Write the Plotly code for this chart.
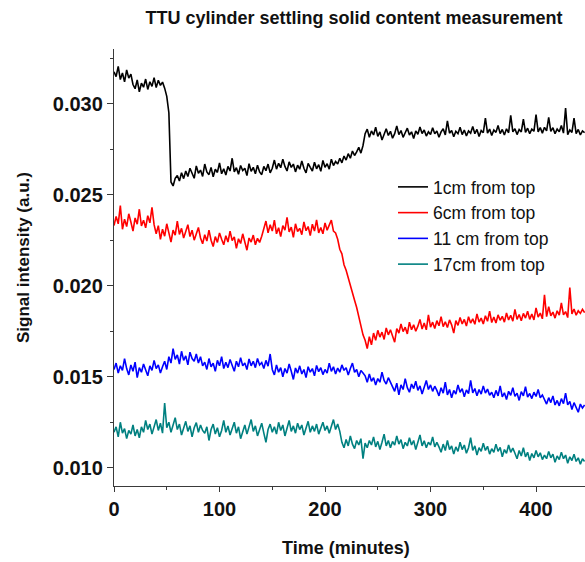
import plotly.graph_objects as go

# Sampling times (minutes), one reading every 2 minutes
TIME = list(range(0, 448, 2))

# Signal intensity (a.u.) at each depth below the top of the cylinder
SIG_1CM = [
    0.03175, 0.03148, 0.03205, 0.03132, 0.03168, 0.03120, 0.03185, 0.03140, 0.03162, 0.03105,
    0.03082, 0.03130, 0.03065, 0.03112, 0.03090, 0.03135, 0.03078, 0.03120, 0.03095, 0.03142,
    0.03088, 0.03128, 0.03100, 0.03118, 0.03085, 0.03040, 0.02950, 0.02570, 0.02548, 0.02590,
    0.02605, 0.02575, 0.02620, 0.02588, 0.02630, 0.02600, 0.02645, 0.02612, 0.02590, 0.02658,
    0.02618, 0.02635, 0.02600, 0.02668, 0.02625, 0.02610, 0.02650, 0.02598, 0.02640, 0.02622,
    0.02675, 0.02615, 0.02642, 0.02608, 0.02655, 0.02630, 0.02700, 0.02625, 0.02648, 0.02612,
    0.02660, 0.02632, 0.02645, 0.02605, 0.02670, 0.02628, 0.02650, 0.02615, 0.02662, 0.02625,
    0.02610, 0.02655, 0.02632, 0.02668, 0.02620, 0.02645, 0.02690, 0.02640, 0.02672, 0.02648,
    0.02695, 0.02655, 0.02630, 0.02680, 0.02650, 0.02668, 0.02625, 0.02662, 0.02640, 0.02685,
    0.02645, 0.02620, 0.02672, 0.02650, 0.02630, 0.02678, 0.02642, 0.02665, 0.02628, 0.02688,
    0.02650, 0.02670, 0.02640, 0.02695, 0.02660, 0.02682, 0.02668, 0.02700, 0.02675, 0.02712,
    0.02690, 0.02725, 0.02700, 0.02740, 0.02715, 0.02735, 0.02760, 0.02728, 0.02770, 0.02835,
    0.02860, 0.02815, 0.02850, 0.02828, 0.02870, 0.02820, 0.02845, 0.02800, 0.02838, 0.02862,
    0.02825, 0.02848, 0.02810, 0.02835, 0.02878, 0.02830, 0.02852, 0.02815, 0.02840, 0.02865,
    0.02828, 0.02845, 0.02808, 0.02850, 0.02832, 0.02872, 0.02836, 0.02855, 0.02822, 0.02845,
    0.02830, 0.02868, 0.02835, 0.02850, 0.02815, 0.02845, 0.02862, 0.02828, 0.02905, 0.02838,
    0.02852, 0.02818, 0.02848, 0.02835, 0.02870, 0.02830, 0.02855, 0.02822, 0.02850, 0.02838,
    0.02875, 0.02835, 0.02858, 0.02820, 0.02852, 0.02840, 0.02920, 0.02838, 0.02860, 0.02825,
    0.02855, 0.02842, 0.02880, 0.02835, 0.02858, 0.02828, 0.02862, 0.02840, 0.02935, 0.02845,
    0.02862, 0.02830, 0.02858, 0.02845, 0.02915, 0.02842, 0.02865, 0.02835, 0.02860, 0.02848,
    0.02940, 0.02845, 0.02868, 0.02838, 0.02870, 0.02850, 0.02925, 0.02848, 0.02868, 0.02835,
    0.02860, 0.02845, 0.02880, 0.02838, 0.02975, 0.02830, 0.02855, 0.02842, 0.02920, 0.02835,
    0.02858, 0.02828, 0.02850, 0.02840,
]

SIG_6CM = [
    0.02330, 0.02380, 0.02340, 0.02440, 0.02310, 0.02365, 0.02325, 0.02395, 0.02350, 0.02300,
    0.02372, 0.02338, 0.02420, 0.02328, 0.02360, 0.02318, 0.02385, 0.02345, 0.02430, 0.02335,
    0.02285, 0.02330, 0.02255, 0.02310, 0.02272, 0.02340, 0.02290, 0.02240, 0.02305, 0.02278,
    0.02355, 0.02282, 0.02315, 0.02262, 0.02298, 0.02335, 0.02270, 0.02305, 0.02250, 0.02292,
    0.02320, 0.02262, 0.02230, 0.02280, 0.02245, 0.02305, 0.02250, 0.02215, 0.02270, 0.02238,
    0.02290, 0.02255, 0.02225, 0.02275, 0.02240, 0.02300, 0.02248, 0.02268, 0.02205, 0.02258,
    0.02232, 0.02285, 0.02245, 0.02195, 0.02262, 0.02240, 0.02278, 0.02225, 0.02260, 0.02238,
    0.02272, 0.02320, 0.02355, 0.02290, 0.02335, 0.02300, 0.02360, 0.02285, 0.02318, 0.02270,
    0.02330, 0.02305, 0.02375, 0.02295, 0.02322, 0.02265, 0.02340, 0.02298, 0.02315, 0.02280,
    0.02350, 0.02302, 0.02325, 0.02275, 0.02338, 0.02300, 0.02362, 0.02290, 0.02320, 0.02285,
    0.02345, 0.02305, 0.02330, 0.02360, 0.02300, 0.02290, 0.02255, 0.02200, 0.02175, 0.02115,
    0.02085, 0.02040, 0.02005, 0.01960, 0.01920, 0.01880, 0.01830, 0.01790, 0.01730, 0.01700,
    0.01655, 0.01720, 0.01675, 0.01740, 0.01700, 0.01755, 0.01718, 0.01745, 0.01705, 0.01768,
    0.01730, 0.01758, 0.01722, 0.01690, 0.01765, 0.01740, 0.01790, 0.01748, 0.01772, 0.01735,
    0.01800, 0.01758, 0.01785, 0.01750, 0.01778, 0.01815, 0.01762, 0.01795, 0.01758, 0.01840,
    0.01772, 0.01800, 0.01765, 0.01808, 0.01780, 0.01830, 0.01775, 0.01802, 0.01770, 0.01812,
    0.01785, 0.01740, 0.01808, 0.01782, 0.01825, 0.01790, 0.01815, 0.01778, 0.01830, 0.01795,
    0.01818, 0.01788, 0.01845, 0.01800, 0.01822, 0.01790, 0.01835, 0.01805, 0.01860, 0.01798,
    0.01828, 0.01795, 0.01840, 0.01810, 0.01832, 0.01800, 0.01850, 0.01812, 0.01838, 0.01805,
    0.01870, 0.01815, 0.01842, 0.01808, 0.01848, 0.01822, 0.01860, 0.01815, 0.01845, 0.01812,
    0.01878, 0.01828, 0.01850, 0.01818, 0.01950, 0.01830, 0.01885, 0.01835, 0.01855, 0.01822,
    0.01862, 0.01838, 0.01905, 0.01840, 0.01858, 0.01825, 0.01990, 0.01845, 0.01872, 0.01838,
    0.01862, 0.01848, 0.01870, 0.01852,
]

SIG_11CM = [
    0.01540, 0.01575, 0.01520, 0.01560, 0.01535, 0.01600, 0.01545, 0.01510, 0.01565, 0.01530,
    0.01580, 0.01495, 0.01550, 0.01525, 0.01570, 0.01540, 0.01505, 0.01560, 0.01535, 0.01590,
    0.01545, 0.01565, 0.01520, 0.01555, 0.01585, 0.01540, 0.01610, 0.01575, 0.01655, 0.01595,
    0.01620, 0.01570, 0.01640, 0.01590, 0.01615, 0.01565, 0.01635, 0.01600, 0.01585, 0.01625,
    0.01575, 0.01610, 0.01560, 0.01580, 0.01540, 0.01600, 0.01555, 0.01575, 0.01530, 0.01590,
    0.01560, 0.01610, 0.01545, 0.01580, 0.01550, 0.01595, 0.01565, 0.01530, 0.01585, 0.01555,
    0.01605, 0.01560, 0.01575, 0.01540, 0.01598, 0.01560, 0.01585, 0.01550, 0.01600, 0.01565,
    0.01578, 0.01545, 0.01590, 0.01558, 0.01625, 0.01540, 0.01510, 0.01565, 0.01525, 0.01550,
    0.01500, 0.01545, 0.01520, 0.01570, 0.01530, 0.01485, 0.01548, 0.01520, 0.01560, 0.01515,
    0.01540, 0.01495, 0.01555, 0.01525, 0.01545, 0.01505, 0.01562, 0.01528, 0.01550, 0.01512,
    0.01540, 0.01520, 0.01575, 0.01530, 0.01555, 0.01515, 0.01548, 0.01525, 0.01565, 0.01535,
    0.01550, 0.01510, 0.01545, 0.01575, 0.01525, 0.01540, 0.01500, 0.01535, 0.01520, 0.01505,
    0.01470, 0.01515, 0.01475, 0.01495, 0.01455, 0.01490, 0.01470, 0.01525, 0.01480, 0.01460,
    0.01495, 0.01470, 0.01450, 0.01420, 0.01465, 0.01400, 0.01455, 0.01430, 0.01490, 0.01440,
    0.01415, 0.01460, 0.01435, 0.01475, 0.01425, 0.01450, 0.01405, 0.01445, 0.01480, 0.01430,
    0.01455, 0.01420, 0.01448, 0.01425, 0.01395, 0.01440, 0.01410, 0.01470, 0.01400, 0.01430,
    0.01385, 0.01425, 0.01405, 0.01455, 0.01415, 0.01435, 0.01390, 0.01428, 0.01408, 0.01480,
    0.01412, 0.01435, 0.01395, 0.01430, 0.01405, 0.01450, 0.01410, 0.01432, 0.01398, 0.01415,
    0.01385, 0.01425, 0.01395, 0.01450, 0.01390, 0.01412, 0.01375, 0.01420, 0.01398, 0.01440,
    0.01392, 0.01410, 0.01370, 0.01418, 0.01395, 0.01445, 0.01388, 0.01408, 0.01380, 0.01415,
    0.01392, 0.01430, 0.01385, 0.01400, 0.01375, 0.01350, 0.01385, 0.01358, 0.01395, 0.01345,
    0.01370, 0.01340, 0.01380, 0.01352, 0.01410, 0.01345, 0.01365, 0.01320, 0.01358, 0.01335,
    0.01305, 0.01350, 0.01328, 0.01345,
]

SIG_17CM = [
    0.01195, 0.01225, 0.01170, 0.01250, 0.01190, 0.01215, 0.01160, 0.01205, 0.01185, 0.01235,
    0.01175, 0.01210, 0.01165, 0.01225, 0.01195, 0.01260, 0.01210, 0.01240, 0.01185, 0.01230,
    0.01265, 0.01205, 0.01245, 0.01190, 0.01355, 0.01220, 0.01250, 0.01195, 0.01235, 0.01275,
    0.01210, 0.01240, 0.01180, 0.01225, 0.01255, 0.01200, 0.01230, 0.01170, 0.01220, 0.01248,
    0.01195, 0.01235, 0.01205, 0.01190, 0.01225, 0.01150, 0.01210, 0.01240, 0.01185, 0.01220,
    0.01170, 0.01205, 0.01260, 0.01195, 0.01230, 0.01180, 0.01215, 0.01250, 0.01190, 0.01225,
    0.01160, 0.01205, 0.01235, 0.01185, 0.01220, 0.01265, 0.01200, 0.01230, 0.01175, 0.01215,
    0.01245, 0.01190, 0.01140, 0.01210, 0.01240, 0.01195, 0.01225, 0.01185, 0.01250, 0.01205,
    0.01235, 0.01175, 0.01220, 0.01260, 0.01200, 0.01230, 0.01190, 0.01245, 0.01210, 0.01235,
    0.01180, 0.01225, 0.01255, 0.01195, 0.01230, 0.01200, 0.01240, 0.01185, 0.01220, 0.01250,
    0.01205, 0.01230, 0.01190, 0.01235, 0.01265, 0.01210, 0.01240, 0.01200, 0.01140, 0.01110,
    0.01155, 0.01120, 0.01175, 0.01130, 0.01105, 0.01150, 0.01125, 0.01160, 0.01050, 0.01135,
    0.01110, 0.01150, 0.01125, 0.01170, 0.01115, 0.01145, 0.01100, 0.01140, 0.01185, 0.01120,
    0.01150, 0.01110, 0.01145, 0.01125, 0.01175, 0.01130, 0.01155, 0.01105, 0.01140, 0.01120,
    0.01165, 0.01125, 0.01150, 0.01100, 0.01145, 0.01180, 0.01120, 0.01148, 0.01110, 0.01140,
    0.01125, 0.01170, 0.01115, 0.01140, 0.01115, 0.01085, 0.01130, 0.01095, 0.01150, 0.01100,
    0.01120, 0.01075, 0.01115, 0.01090, 0.01140, 0.01100, 0.01125, 0.01080, 0.01110, 0.01165,
    0.01095, 0.01120, 0.01070, 0.01110, 0.01090, 0.01135, 0.01095, 0.01118, 0.01075, 0.01105,
    0.01085, 0.01130, 0.01090, 0.01112, 0.01060, 0.01100, 0.01080, 0.01125, 0.01085, 0.01108,
    0.01080, 0.01050, 0.01095, 0.01065, 0.01110, 0.01060, 0.01085, 0.01040, 0.01078, 0.01055,
    0.01095, 0.01060, 0.01082, 0.01045, 0.01070, 0.01050, 0.01090, 0.01055, 0.01075, 0.01030,
    0.01065, 0.01045, 0.01085, 0.01050, 0.01070, 0.01025, 0.01060, 0.01040, 0.01075, 0.01035,
    0.01055, 0.01020, 0.01050, 0.01035,
]

SERIES_NAMES = ["1cm from top", "6cm from top", "11 cm from top", "17cm from top"]
SERIES_COLORS = ["#000000", "#ff0000", "#0000ff", "#008080"]

for s in (SIG_1CM, SIG_6CM, SIG_11CM, SIG_17CM):
    assert len(s) == len(TIME), len(s)

FONT = "Liberation Sans, Arial, sans-serif"
AXIS_COLOR = "#3a3a3a"
TEXT_COLOR = "#111111"

fig = go.Figure()
for name, color, vals in zip(SERIES_NAMES, SERIES_COLORS,
                             [SIG_1CM, SIG_6CM, SIG_11CM, SIG_17CM]):
    fig.add_trace(go.Scatter(
        x=TIME, y=vals, mode="lines", name=name,
        line=dict(color=color, width=1.6),
    ))

X_RANGE = [0, 446.4]
Y_RANGE = [0.009, 0.033]

fig.update_layout(
    width=585, height=562,
    margin=dict(l=114, r=0, t=49, b=76),
    paper_bgcolor="white", plot_bgcolor="white",
    font=dict(family=FONT, color=TEXT_COLOR),
    title=dict(
        text="TTU cylinder settling solid content measurement",
        font=dict(family=FONT, size=18, weight="bold", color=TEXT_COLOR),
        xref="container", x=354 / 585, xanchor="center",
        yref="container", y=1 - 18 / 562, yanchor="middle",
    ),
    xaxis=dict(
        range=X_RANGE, showgrid=False, zeroline=False,
        showline=True, linecolor=AXIS_COLOR, linewidth=1.3,
        ticks="outside", ticklen=5, tickwidth=1.2, tickcolor=AXIS_COLOR,
        tick0=0, dtick=100,
        minor=dict(ticks="outside", dtick=50, ticklen=3, tickcolor=AXIS_COLOR, tickwidth=1),
        tickfont=dict(family=FONT, size=20, weight="bold", color=TEXT_COLOR),
    ),
    xaxis2=dict(
        range=X_RANGE, overlaying="x", side="top", showgrid=False, zeroline=False,
        showline=True, linecolor=AXIS_COLOR, linewidth=1.3,
        ticks="inside", ticklen=5, tickwidth=1.2, tickcolor=AXIS_COLOR,
        tick0=0, dtick=50, showticklabels=False,
    ),
    yaxis=dict(
        range=Y_RANGE, showgrid=False, zeroline=False,
        showline=True, linecolor=AXIS_COLOR, linewidth=1.3,
        ticks="outside", ticklen=6, tickwidth=1.2, tickcolor=AXIS_COLOR,
        tick0=0.010, dtick=0.005, tickformat=".3f",
        minor=dict(ticks="outside", dtick=0.0025, ticklen=3, tickcolor=AXIS_COLOR, tickwidth=1),
        tickfont=dict(family=FONT, size=20, weight="bold", color=TEXT_COLOR),
    ),
    yaxis2=dict(
        range=Y_RANGE, overlaying="y", side="right", showgrid=False, zeroline=False,
        showline=False, ticks="inside", ticklen=4, tickwidth=1.2, tickcolor=AXIS_COLOR,
        tick0=0.010, dtick=0.005, showticklabels=False,
    ),
    legend=dict(
        x=(393 - 114) / 471, xanchor="left",
        y=(486 - 169) / 437, yanchor="top",
        bgcolor="rgba(0,0,0,0)", borderwidth=0,
        font=dict(family=FONT, size=17.5, color=TEXT_COLOR),
        tracegroupgap=0,
    ),
    showlegend=True,
    annotations=[
        dict(text="Time (minutes)", xref="paper", yref="paper",
             x=(346 - 114) / 471, y=(486 - 548) / 437,
             xanchor="center", yanchor="middle", showarrow=False,
             font=dict(family=FONT, size=18, weight="bold", color=TEXT_COLOR)),
        dict(text="Signal intensity (a.u.)", xref="paper", yref="paper",
             x=(23 - 114) / 471, y=(486 - 258) / 437, textangle=-90,
             xanchor="center", yanchor="middle", showarrow=False,
             font=dict(family=FONT, size=17, weight="bold", color=TEXT_COLOR)),
    ],
)

fig.write_html("out.html")
